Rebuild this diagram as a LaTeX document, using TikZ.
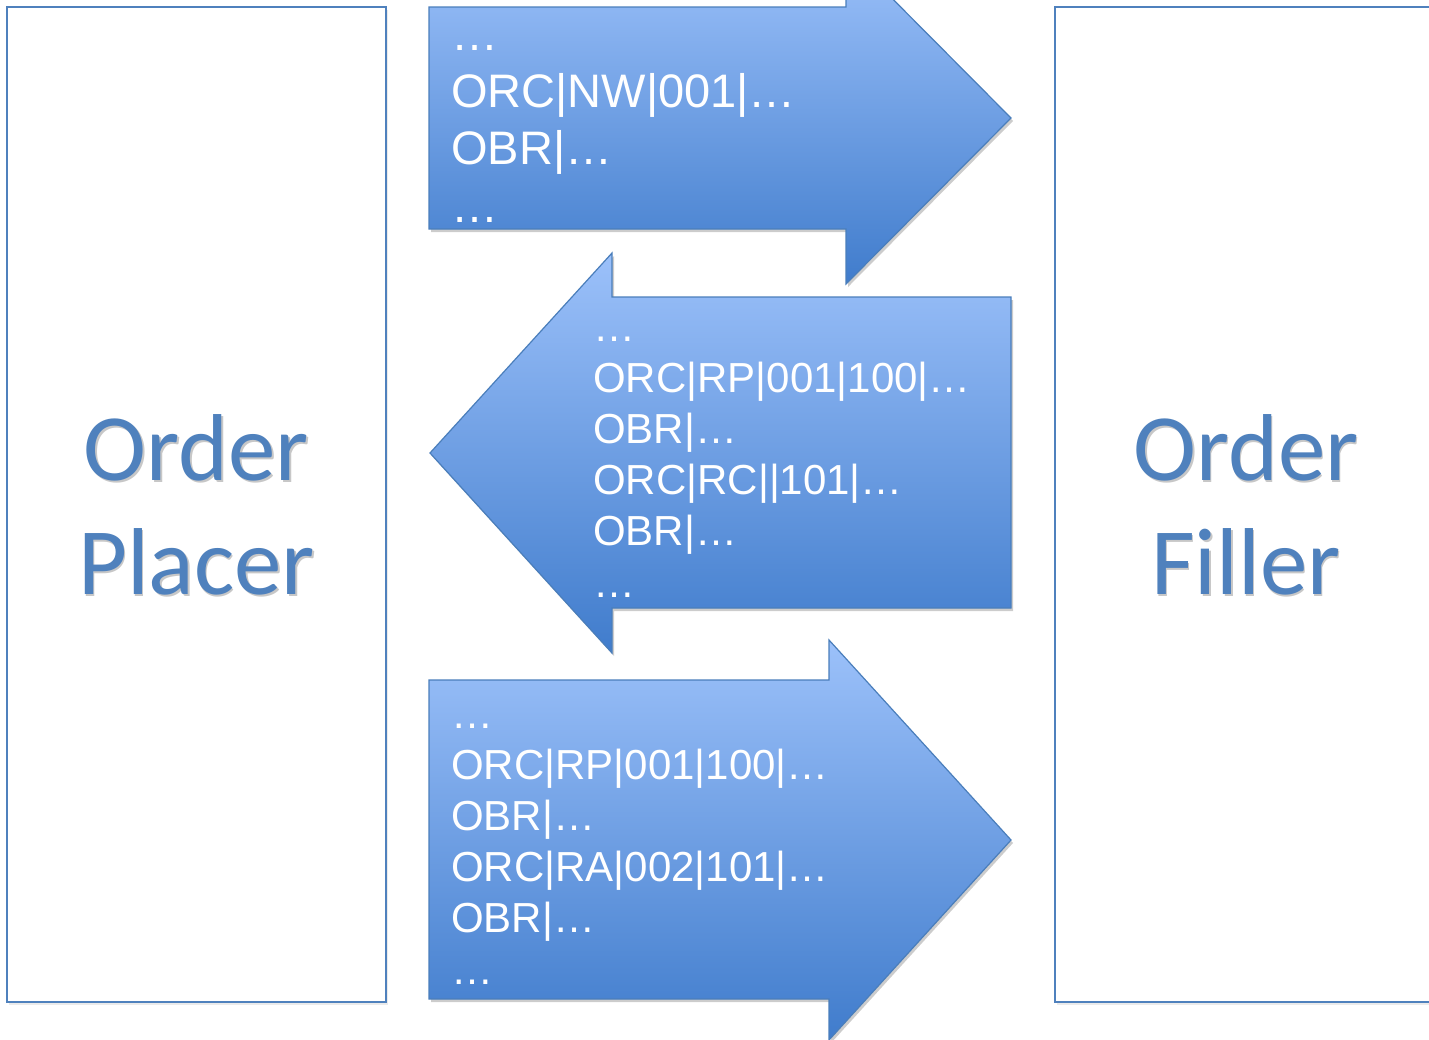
\documentclass[tikz,border=0pt]{standalone}
\usepackage{fontspec}
\setmainfont{Liberation Sans}
\newfontfamily\calibfont{Carlito}
\definecolor{officeblue}{RGB}{79,129,189}
\definecolor{arrtop}{RGB}{156,193,250}
\definecolor{arrbot}{RGB}{64,124,204}
\definecolor{arredge}{RGB}{74,126,187}
\tikzset{
  entitybox/.style={draw=officeblue, line width=2pt, fill=white},
  boxshadow/.style={fill=black, opacity=0.08, inner sep=0pt},
  msgarrow/.style={draw=arredge, line width=1.2pt, top color=arrtop, bottom color=arrbot},
  arrowshadow/.style={fill=black, opacity=0.2, draw=none},
  entitytext/.style={font=\calibfont\fontsize{95}{114}\selectfont, text=officeblue,
    align=center, inner sep=0pt, anchor=base},
  entityshadow/.style={entitytext, text=black, opacity=0.22},
  bigmsg/.style={text=white, align=left, inner sep=0pt, anchor=base west,
    font=\fontsize{47}{57.3}\selectfont},
  smallmsg/.style={text=white, align=left, inner sep=0pt, anchor=base west,
    font=\fontsize{42}{51.2}\selectfont}
}
\begin{document}
\begin{tikzpicture}[x=1pt,y=-1pt]
\useasboundingbox (0,0) rectangle (1429,1039);
\clip (0,0) rectangle (1429,1039);
% entity boxes
\node[boxshadow, minimum width=379pt, minimum height=995pt] (placershade) at (198.5,507.5) {};
\node[boxshadow, minimum width=382pt, minimum height=995pt] (fillershade) at (1248,507.5) {};
\node[entitybox, minimum width=379pt, minimum height=995pt, inner sep=0pt] (placer) at (196.5,504.5) {};
\node[entitybox, minimum width=382pt, minimum height=995pt, inner sep=0pt] (filler) at (1246,504.5) {};
\node[entityshadow] (placershadow) at (198,596.5) {Order\\Placer};
\node[entitytext] (placertext) at (196.5,594) {Order\\Placer};
\node[entityshadow] (fillershadow) at (1247.5,596.5) {Order\\Filler};
\node[entitytext] (fillertext) at (1246,594) {Order\\Filler};
% arrows: shadows
\path[arrowshadow, shift={(2,3)}] (429,7) -- (846,7) -- (846,-48) -- (1011,118) -- (846,284) -- (846,229) -- (429,229) -- cycle;
\path[arrowshadow, shift={(2,3)}] (1011,297) -- (612,297) -- (612,253) -- (430,453) -- (612,653) -- (612,608) -- (1011,608) -- cycle;
\path[arrowshadow, shift={(2,3)}] (429,680) -- (829,680) -- (829,640) -- (1011,840) -- (829,1040) -- (829,999) -- (429,999) -- cycle;
% arrows
\path[msgarrow] (429,7) -- (846,7) -- (846,-48) -- (1011,118) -- (846,284) -- (846,229) -- (429,229) -- cycle;
\path[msgarrow] (1011,297) -- (612,297) -- (612,253) -- (430,453) -- (612,653) -- (612,608) -- (1011,608) -- cycle;
\path[msgarrow] (429,680) -- (829,680) -- (829,640) -- (1011,840) -- (829,1040) -- (829,999) -- (429,999) -- cycle;
% messages (anchor = baseline of last line)
\node[bigmsg] (msgnew) at (451,222) {…\\ORC|NW|001|…\\OBR|…\\…};
\node[smallmsg] (msgreply) at (593,597) {…\\ORC|RP|001|100|…\\OBR|…\\ORC|RC||101|…\\OBR|…\\…};
\node[smallmsg] (msgack) at (451,984) {…\\ORC|RP|001|100|…\\OBR|…\\ORC|RA|002|101|…\\OBR|…\\…};
\end{tikzpicture}
\end{document}
